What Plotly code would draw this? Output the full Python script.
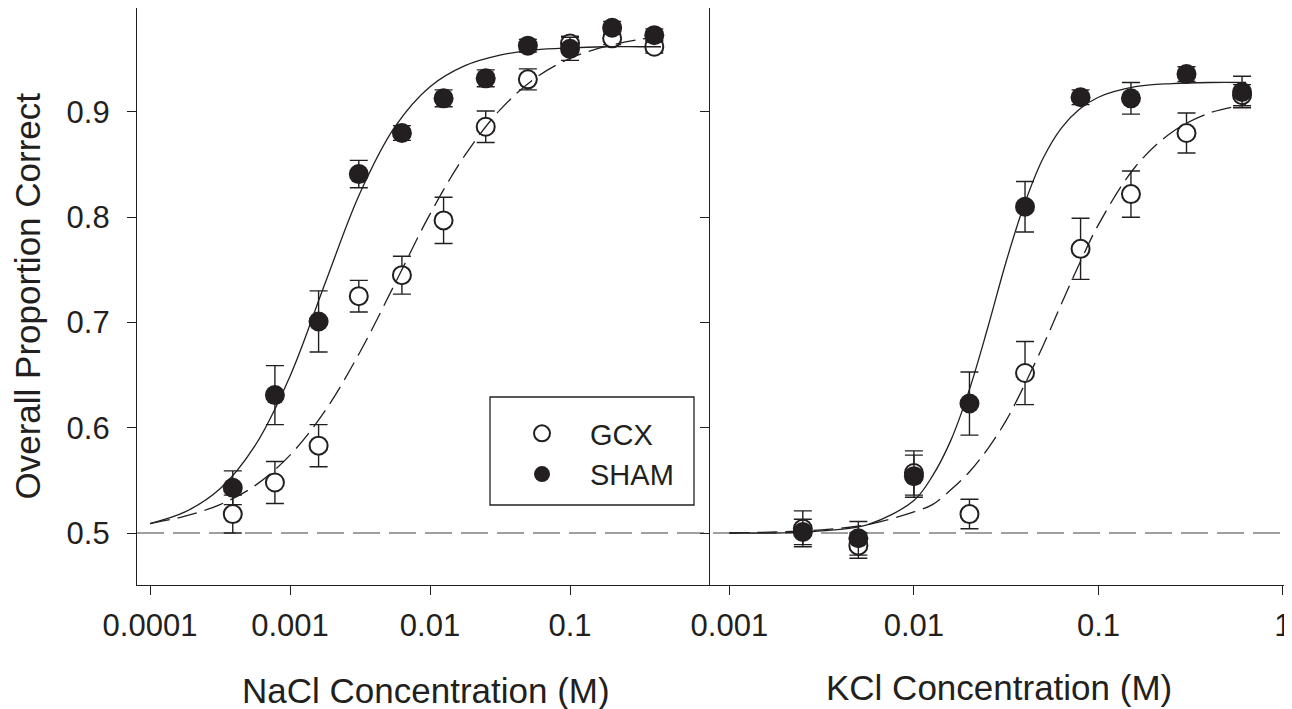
import plotly.graph_objects as go

# ---------------- data ----------------
nacl_conc = [0.00039, 0.00078, 0.0016, 0.0031, 0.0063, 0.0125, 0.025, 0.05, 0.1, 0.2, 0.4]
nacl_gcx = [0.518, 0.548, 0.583, 0.725, 0.745, 0.797, 0.886, 0.931, 0.965, 0.970, 0.962]
nacl_gcx_err = [0.018, 0.020, 0.020, 0.015, 0.018, 0.022, 0.015, 0.010, 0.007, 0.006, 0.006]
nacl_sham = [0.543, 0.631, 0.701, 0.841, 0.880, 0.913, 0.932, 0.963, 0.960, 0.980, 0.973]
nacl_sham_err = [0.016, 0.028, 0.029, 0.013, 0.007, 0.008, 0.008, 0.006, 0.011, 0.006, 0.006]

kcl_conc = [0.0025, 0.005, 0.01, 0.02, 0.04, 0.08, 0.15, 0.3, 0.6]
kcl_gcx = [0.504, 0.488, 0.557, 0.518, 0.652, 0.770, 0.822, 0.880, 0.916]
kcl_gcx_err = [0.017, 0.012, 0.021, 0.014, 0.030, 0.029, 0.022, 0.019, 0.010]
kcl_sham = [0.501, 0.495, 0.554, 0.623, 0.810, 0.914, 0.913, 0.936, 0.919]
kcl_sham_err = [0.012, 0.016, 0.020, 0.030, 0.024, 0.007, 0.015, 0.007, 0.015]

# fitted curves (log10 concentration, proportion)
nacl_fit_log = [-4.0, -3.75, -3.5, -3.25, -3.0, -2.75, -2.5, -2.25, -2.0, -1.75,
                -1.5, -1.25, -1.0, -0.75, -0.5, -0.35]
nacl_fit_sham = [0.509, 0.520, 0.542, 0.583, 0.649, 0.737, 0.823, 0.886, 0.924, 0.944,
                 0.954, 0.959, 0.961, 0.962, 0.962, 0.962]
nacl_fit_gcx = [0.509, 0.516, 0.527, 0.545, 0.574, 0.616, 0.672, 0.737, 0.803, 0.859,
                0.902, 0.932, 0.951, 0.962, 0.969, 0.971]

kcl_fit_log = [-3.0, -2.75, -2.5, -2.25, -2.0, -1.9, -1.8, -1.7, -1.6, -1.5, -1.4,
               -1.3, -1.2, -1.1, -1.0, -0.8, -0.6, -0.4, -0.2]
kcl_fit_sham = [0.500, 0.500, 0.502, 0.508, 0.531, 0.554, 0.588, 0.636, 0.695, 0.758,
                0.813, 0.856, 0.885, 0.903, 0.914, 0.924, 0.927, 0.928, 0.928]
kcl_fit_gcx = [0.500, 0.501, 0.503, 0.508, 0.520, 0.527, 0.541, 0.558, 0.580, 0.607,
               0.641, 0.678, 0.718, 0.757, 0.793, 0.848, 0.881, 0.899, 0.907]

chance_level = 0.5

y_ticks = [0.5, 0.6, 0.7, 0.8, 0.9]
y_ticktext = ["0.5", "0.6", "0.7", "0.8", "0.9"]
nacl_ticks = [0.0001, 0.001, 0.01, 0.1]
nacl_ticktext = ["0.0001", "0.001", "0.01", "0.1"]
kcl_ticks = [0.001, 0.01, 0.1, 1]
kcl_ticktext = ["0.001", "0.01", "0.1", "1"]

# ---------------- styling ----------------
FONT = "Liberation Sans, Arial, Helvetica, sans-serif"
INK = "#231f20"
# the page body adds an 8 px offset, so the figure is 8 px smaller
W, H = 1284, 701
ML, MR, MT, MB = 129, 0, 0, 124
PW = W - ML - MR
PH = H - MT - MB
split = (702 - ML) / PW


def px_x(x):  # figure-pixel x -> paper
    return (x - ML) / PW


def px_y(y):  # figure-pixel y -> paper
    return (MT + PH - y) / PH


fig = go.Figure()


def add_panel(conc, gcx, gcx_err, sham, sham_err, fit_log, fit_gcx, fit_sham, xa, ya, legend):
    fig.add_trace(go.Scatter(
        x=conc, y=gcx, mode="markers", name="GCX", xaxis=xa, yaxis=ya, showlegend=legend,
        marker=dict(symbol="circle", size=18, color="white", line=dict(color=INK, width=2)),
        error_y=dict(type="data", array=gcx_err, color=INK, thickness=1.4, width=9),
    ))
    fig.add_trace(go.Scatter(
        x=conc, y=sham, mode="markers", name="SHAM", xaxis=xa, yaxis=ya, showlegend=legend,
        marker=dict(symbol="circle", size=20, color=INK, line=dict(color=INK, width=0)),
        error_y=dict(type="data", array=sham_err, color=INK, thickness=1.4, width=9),
    ))
    fx = [10 ** v for v in fit_log]
    fig.add_trace(go.Scatter(
        x=fx, y=fit_gcx, mode="lines", xaxis=xa, yaxis=ya, showlegend=False, hoverinfo="skip",
        line=dict(color=INK, width=1.3, dash="20px,8px", shape="spline"),
    ))
    fig.add_trace(go.Scatter(
        x=fx, y=fit_sham, mode="lines", xaxis=xa, yaxis=ya, showlegend=False, hoverinfo="skip",
        line=dict(color=INK, width=1.3, shape="spline"),
    ))


add_panel(nacl_conc, nacl_gcx, nacl_gcx_err, nacl_sham, nacl_sham_err,
          nacl_fit_log, nacl_fit_gcx, nacl_fit_sham, "x", "y", True)
add_panel(kcl_conc, kcl_gcx, kcl_gcx_err, kcl_sham, kcl_sham_err,
          kcl_fit_log, kcl_fit_gcx, kcl_fit_sham, "x2", "y2", False)

# chance line across both panels
fig.add_shape(type="line", xref="paper", yref="y", x0=0, x1=1, y0=chance_level, y1=chance_level,
              line=dict(color="#808080", width=1.6, dash="27px,9px"), layer="below")
# legend frame
fig.add_shape(type="rect", xref="paper", yref="paper",
              x0=px_x(482), x1=px_x(686), y0=px_y(497), y1=px_y(389),
              line=dict(color=INK, width=1.3), fillcolor="rgba(0,0,0,0)", layer="above")

axis_common = dict(showline=True, linecolor=INK, linewidth=1.3, ticks="outside", ticklen=9,
                   tickwidth=1.2, tickcolor=INK, showgrid=False, zeroline=False,
                   tickfont=dict(family=FONT, size=31, color=INK))
yrange = [0.4506, 0.9988]

fig.update_layout(
    width=W, height=H,
    margin=dict(l=ML, r=MR, t=MT, b=MB, autoexpand=False),
    paper_bgcolor="white", plot_bgcolor="white",
    font=dict(family=FONT, color=INK),
    xaxis=dict(domain=[0, split], type="log", range=[-4.093, 0.0], anchor="y",
               tickvals=nacl_ticks, ticktext=nacl_ticktext, ticklabelstandoff=4, **axis_common),
    yaxis=dict(domain=[0, 1], range=yrange, anchor="x", ticklabelstandoff=11,
               tickvals=y_ticks, ticktext=y_ticktext, **axis_common),
    xaxis2=dict(domain=[split, 1], type="log", range=[-3.105, 0.0488], anchor="y2",
                tickvals=kcl_ticks, ticktext=kcl_ticktext, ticklabelstandoff=4,
                ticklabeloverflow="allow", **axis_common),
    yaxis2=dict(domain=[0, 1], range=yrange, anchor="x2", showticklabels=False,
                tickvals=y_ticks, **axis_common),
    legend=dict(x=px_x(486), y=px_y(400), xanchor="left", yanchor="top",
                borderwidth=0, bgcolor="rgba(0,0,0,0)",
                font=dict(family=FONT, size=29, color=INK),
                itemwidth=86, tracegroupgap=0),
    annotations=[
        dict(text="Overall Proportion Correct", xref="paper", yref="paper",
             x=px_x(19), y=0.5, textangle=-90, showarrow=False,
             font=dict(family=FONT, size=35, color=INK), xanchor="center", yanchor="middle"),
        dict(text="NaCl Concentration (M)", xref="paper", yref="paper",
             x=px_x(418), y=px_y(682), showarrow=False,
             font=dict(family=FONT, size=35, color=INK), xanchor="center", yanchor="middle"),
        dict(text="KCl Concentration (M)", xref="paper", yref="paper",
             x=px_x(991), y=px_y(679), showarrow=False,
             font=dict(family=FONT, size=35, color=INK), xanchor="center", yanchor="middle"),
    ],
)

fig.write_html("out.html")
